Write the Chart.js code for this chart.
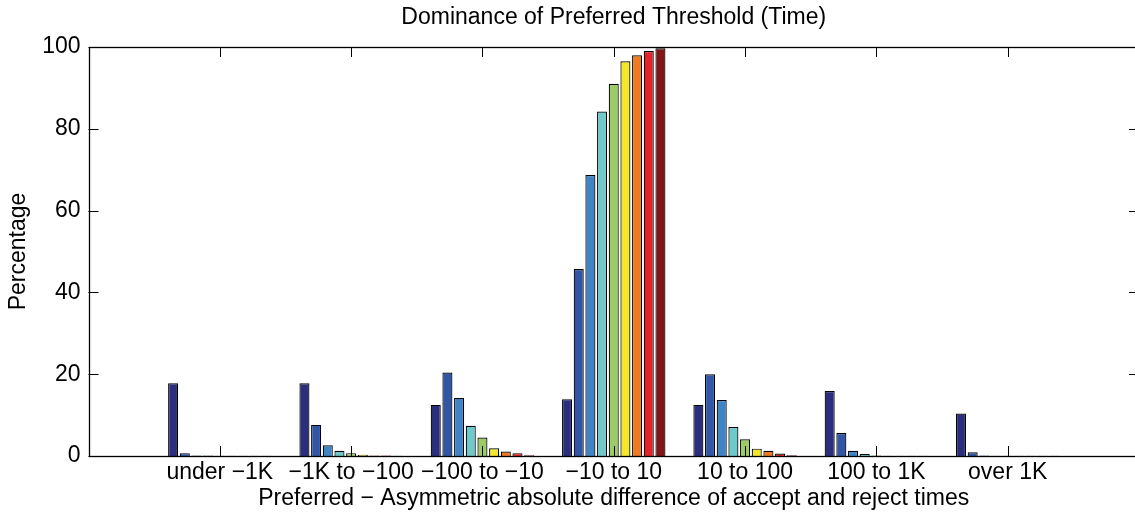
<!DOCTYPE html>
<html>
<head>
<meta charset="utf-8">
<title>Dominance of Preferred Threshold (Time)</title>
<script src="https://cdn.jsdelivr.net/npm/chart.js@4/dist/chart.umd.min.js"></script>
<style>
  html, body { margin: 0; padding: 0; overflow: hidden; background: #fff; }
  #wrap { position: relative; width: 1142px; height: 518px; }
</style>
</head>
<body>
<div id="wrap"><canvas id="domChart"></canvas></div>
<script>
// 区間ラベル（両端は空きスロット）
const categories = ['under −1K', '−1K to −100', '−100 to −10', '−10 to 10', '10 to 100', '100 to 1K', 'over 1K'];

// 区間ごとの割合（%）、9系列ぶん
const underNeg1K   = [17.8, 0.7, 0.1, 0.1, 0.05, 0.05, 0.05, 0.05, 0.05];
const neg1KTo100   = [17.8, 7.6, 2.6, 1.3, 0.7, 0.3, 0.1, 0.1, 0.05];
const neg100To10   = [12.5, 20.4, 14.2, 7.4, 4.5, 1.9, 1.1, 0.7, 0.2];
const neg10To10    = [13.9, 45.7, 68.7, 84.2, 91.0, 96.5, 98.0, 99.0, 99.7];
const pos10To100   = [12.5, 20.0, 13.7, 7.1, 4.1, 1.8, 1.3, 0.6, 0.2];
const pos100To1K   = [15.9, 5.6, 1.3, 0.5, 0.1, 0.05, 0.05, 0.05, 0.05];
const over1K       = [10.4, 0.9, 0.1, 0.05, 0.05, 0.05, 0.05, 0.05, 0.05];
const groups = [underNeg1K, neg1KTo100, neg100To10, neg10To10, pos10To100, pos100To1K, over1K];

// Y軸の目盛り
const yTicks = [0, 20, 40, 60, 80, 100];

// jet 風の配色
const seriesColors = ['#2a2e7c', '#3156a6', '#3f85c6', '#6ec9cb', '#9bcc67', '#f2e72a', '#ef7a22', '#e32229', '#821518'];

const FONT = { family: '"Liberation Sans", Arial, Helvetica, sans-serif', size: 23 };

// 系列ごとのデータセットを作成（先頭・末尾は空き）
const labels = [''].concat(categories, ['']);
const datasets = seriesColors.map((color, s) => ({
  data: [null].concat(groups.map(g => g[s]), [null]),
  backgroundColor: color,
  borderColor: '#000',
  borderWidth: 1.2,
  borderSkipped: 'bottom',
  categoryPercentage: 0.8,
  barPercentage: 0.86
}));

// 枠線と内向きの目盛りを描画
const boxAxes = {
  id: 'boxAxes',
  afterDatasetsDraw(chart) {
    const { ctx, chartArea: a, scales } = chart;
    const tick = 10;
    ctx.save();
    ctx.strokeStyle = '#000';
    ctx.lineWidth = 1;
    ctx.beginPath();
    yTicks.forEach(v => {
      const y = Math.round(scales.y.getPixelForValue(v)) + 0.5;
      ctx.moveTo(a.left, y); ctx.lineTo(a.left + tick, y);
      ctx.moveTo(a.right, y); ctx.lineTo(a.right - tick, y);
    });
    categories.forEach((c, i) => {
      const x = Math.round(scales.x.getPixelForValue(i + 1)) + 0.5;
      ctx.moveTo(x, a.bottom); ctx.lineTo(x, a.bottom - tick);
      ctx.moveTo(x, a.top); ctx.lineTo(x, a.top + tick);
    });
    ctx.stroke();
    ctx.lineWidth = 1.3;
    ctx.strokeRect(Math.round(a.left) + 0.5, Math.round(a.top) + 0.5,
      Math.round(a.right - a.left), Math.round(a.bottom - a.top));
    ctx.restore();
  }
};

new Chart(document.getElementById('domChart'), {
  type: 'bar',
  data: { labels, datasets },
  options: {
    responsive: true,
    maintainAspectRatio: false,
    animation: false,
    layout: { padding: 0 },
    plugins: {
      legend: { display: false },
      tooltip: { enabled: false },
      title: {
        display: true,
        text: 'Dominance of Preferred Threshold (Time)',
        fullSize: false,
        color: '#000',
        font: { ...FONT, weight: 'normal' },
        padding: { top: 4, bottom: 15.4 }
      }
    },
    scales: {
      x: {
        offset: false,
        grid: { display: false, drawTicks: false },
        border: { display: false },
        ticks: { color: '#000', font: FONT, padding: 3, maxRotation: 0, autoSkip: false },
        title: {
          display: true,
          text: 'Preferred − Asymmetric absolute difference of accept and reject times',
          color: '#000',
          font: FONT,
          padding: { top: 0, bottom: 6 }
        },
        afterFit(scale) { scale.height = 62; }
      },
      y: {
        min: 0,
        max: 100,
        grid: { display: false, drawTicks: false },
        border: { display: false },
        ticks: { stepSize: 20, color: '#000', font: FONT, padding: 8 },
        title: {
          display: true,
          text: 'Percentage',
          color: '#000',
          font: FONT,
          padding: { top: 5, bottom: 0 }
        },
        afterFit(scale) { scale.width = 88.5; }
      }
    }
  },
  plugins: [boxAxes]
});
</script>
</body>
</html>
